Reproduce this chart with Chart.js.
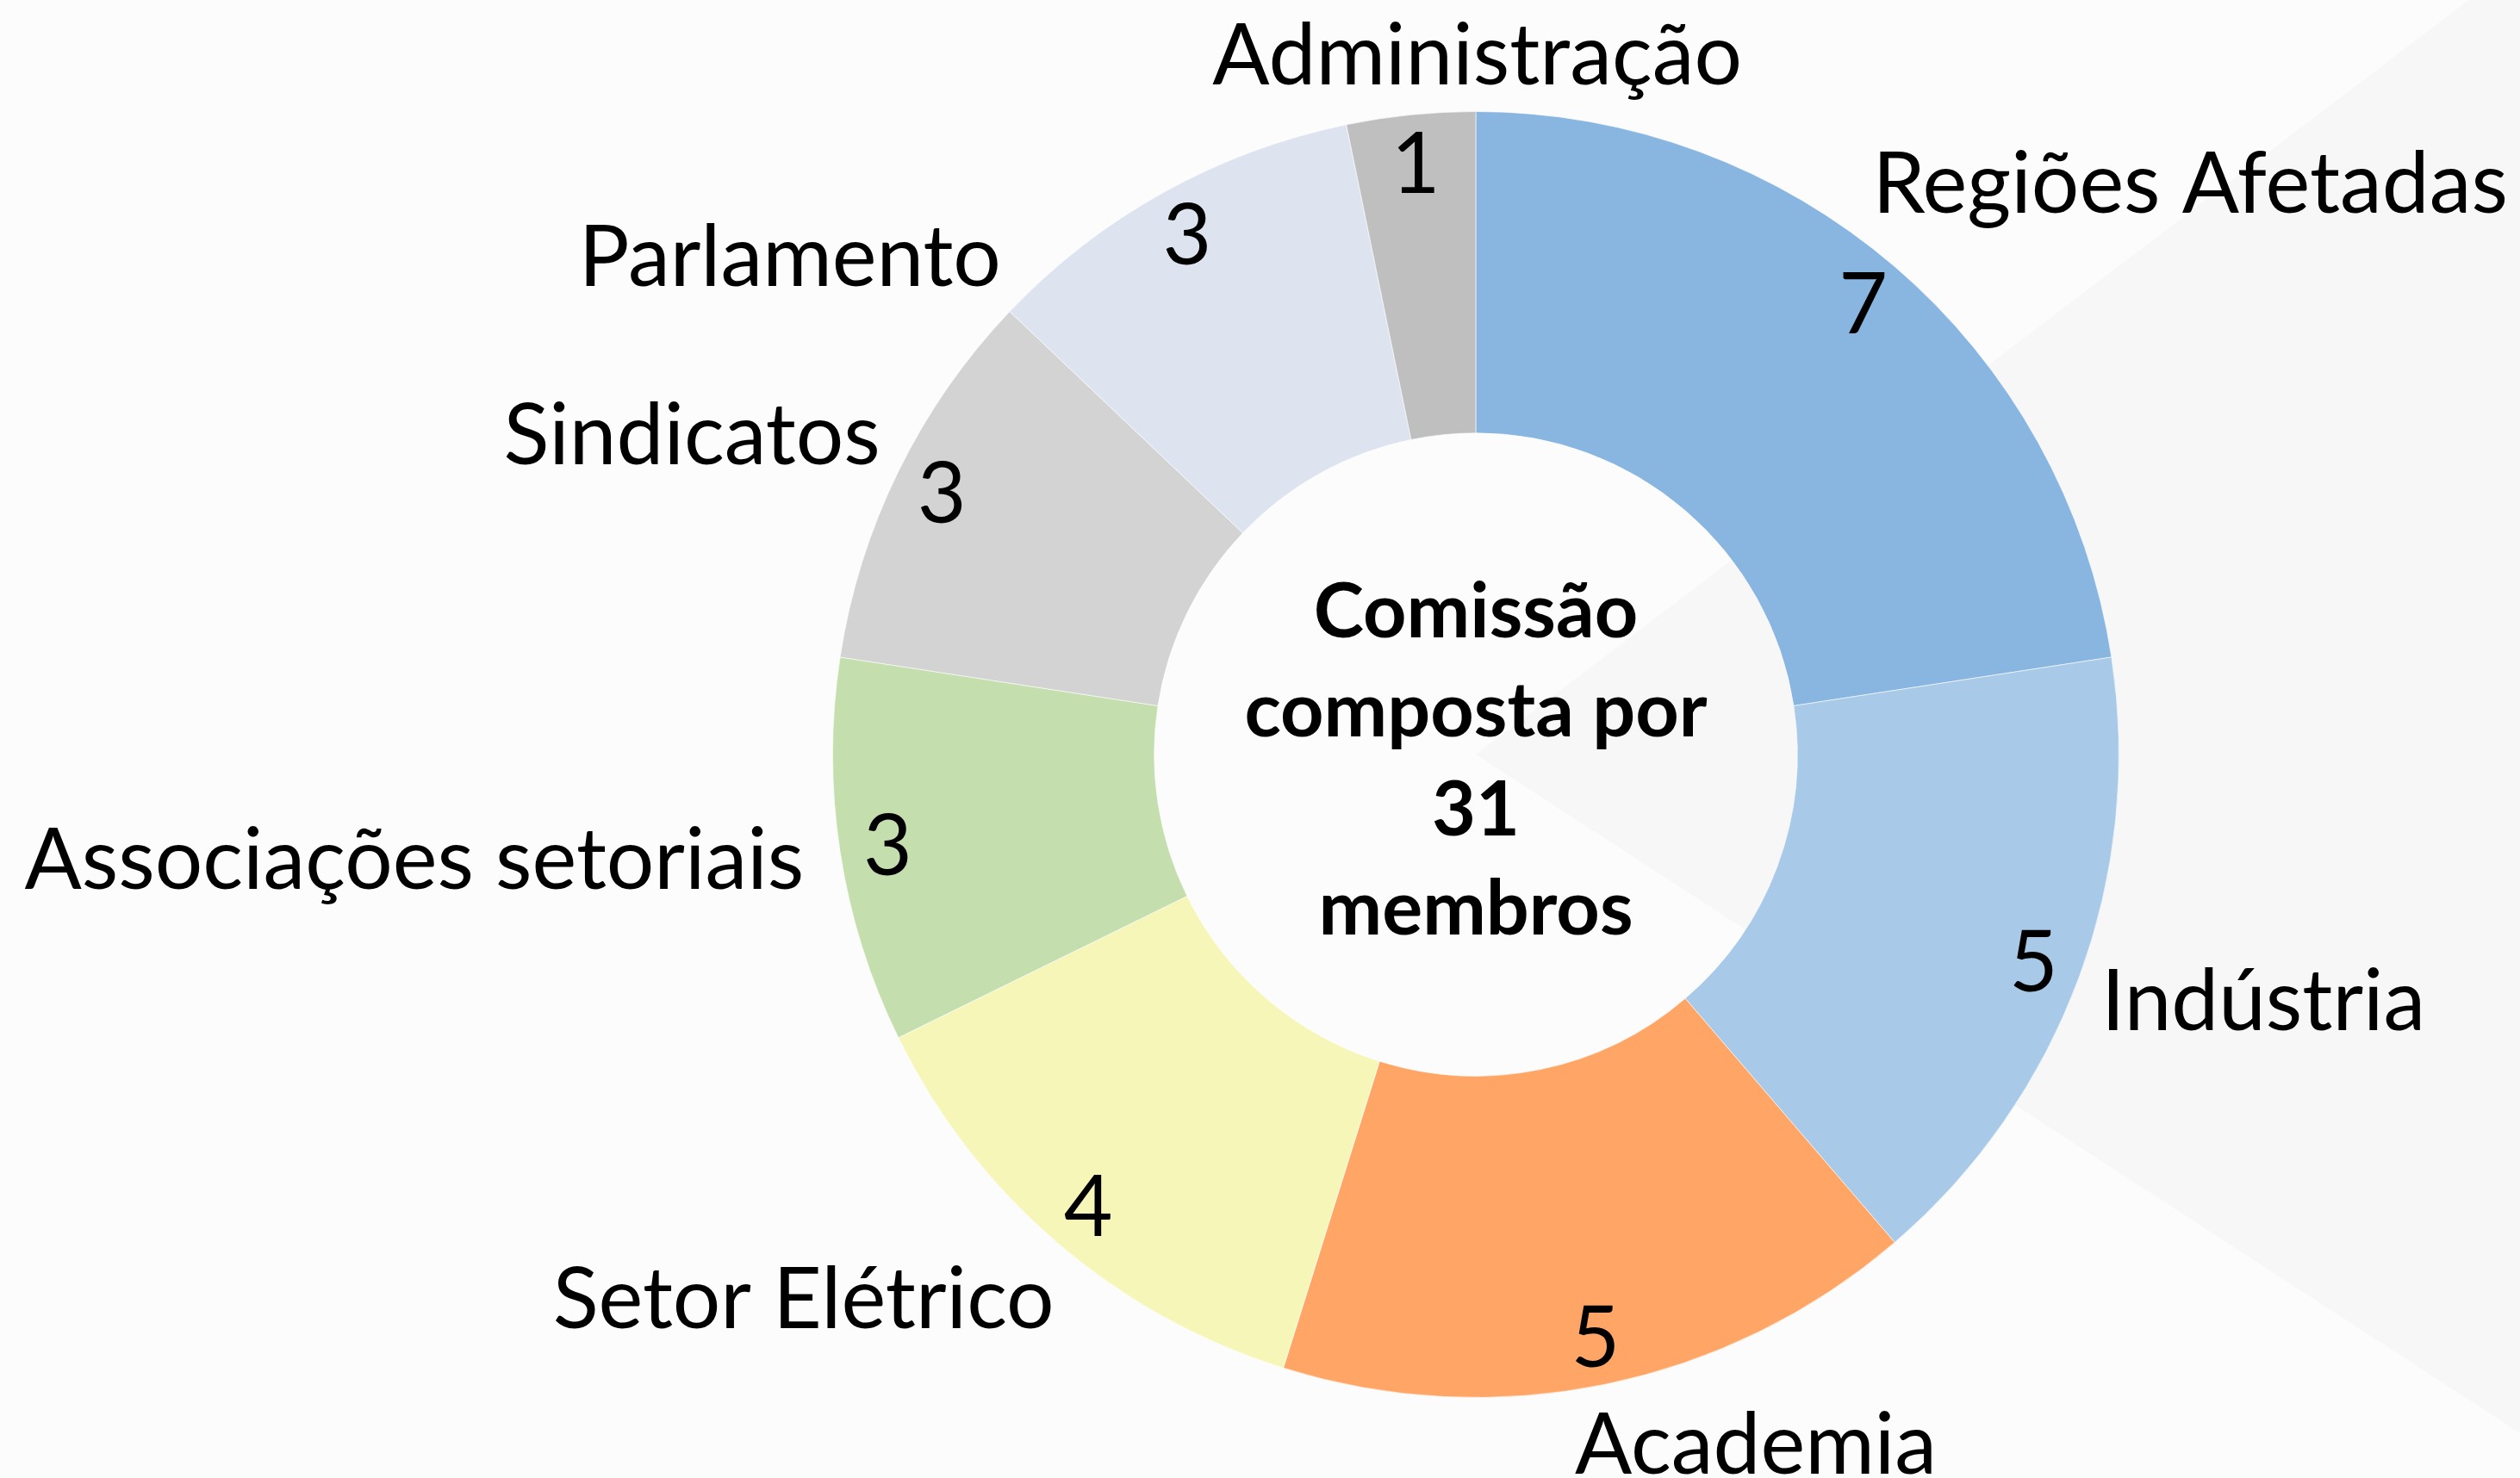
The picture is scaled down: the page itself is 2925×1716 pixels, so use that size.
<!DOCTYPE html>
<html>
<head>
<meta charset="utf-8">
<script src="https://cdn.jsdelivr.net/npm/chart.js@4.4.1/dist/chart.umd.min.js"></script>
<style>
  html, body { margin: 0; padding: 0; background: #fcfcfc; }
  canvas { display: block; }
</style>
</head>
<body>
<canvas id="comissaoChart" width="2925" height="1716"></canvas>
<script>
// Composition of the commission (members per group), clockwise from 12 o'clock
const categories = ['Regiões Afetadas', 'Indústria', 'Academia', 'Setor Elétrico',
    'Associações setoriais', 'Sindicatos', 'Parlamento', 'Administração'];
const members = [7, 5, 5, 4, 3, 3, 3, 1];
const centerText = ['Comissão', 'composta por', '31', 'membros'];

const sliceColors = ['#89b6e0', '#a8c9e8', '#ffa666', '#f7f6b9',
    '#c4dfad', '#d3d3d3', '#dde4ef', '#bfbfbf'];

// label layout tweaks (px) so the outside labels sit where the original put them
const labelNudge = [[-39, -39], [7, -19], [65, 6], [10, 6], [-22, -11], [-3, 9], [-179, 134], [157, -7]];

const LABEL_FONT = 98;
const CENTER_FONT = 88;

// Background: off-white page with a pale grey wedge opening to the right
const backgroundPlugin = {
    id: 'pageBackground',
    beforeDraw(chart) {
        const ctx = chart.ctx;
        const arc = chart.getDatasetMeta(0).data[0];
        const cx = arc.x, cy = arc.y;
        ctx.save();
        ctx.fillStyle = '#fcfcfc';
        ctx.fillRect(0, 0, chart.width, chart.height);
        ctx.fillStyle = '#f7f7f7';
        ctx.beginPath();
        ctx.moveTo(cx, cy);
        ctx.lineTo(cx + cy / 0.76, 0);
        ctx.lineTo(chart.width, 0);
        ctx.lineTo(chart.width, chart.height);
        ctx.lineTo(cx + (chart.height - cy) / 0.65, chart.height);
        ctx.closePath();
        ctx.fill();
        ctx.restore();
    }
};

// Values inside the ring, category names outside, title in the hole
const labelPlugin = {
    id: 'sliceLabels',
    afterDatasetsDraw(chart) {
        const ctx = chart.ctx;
        const meta = chart.getDatasetMeta(0);
        const capH = LABEL_FONT * 0.7165;
        const clamp = v => Math.max(-1, Math.min(1, v * 2.5));
        ctx.save();
        ctx.fillStyle = '#000000';
        ctx.textBaseline = 'alphabetic';
        ctx.font = LABEL_FONT + 'px Lato';

        meta.data.forEach(function (arc, i) {
            const p = arc.getProps(['x', 'y', 'startAngle', 'endAngle', 'outerRadius'], true);
            const mid = (p.startAngle + p.endAngle) / 2;
            const ux = Math.cos(mid), uy = Math.sin(mid);

            // value near the outer edge of the slice
            ctx.textAlign = 'center';
            const vr = p.outerRadius * 0.925;
            ctx.fillText(String(members[i]), p.x + ux * vr, p.y + uy * vr + capH / 2);

            // category name just outside the ring
            const w = ctx.measureText(categories[i]).width;
            const h = 86;
            const ar = p.outerRadius * 1.027;
            const lx = p.x + ux * ar + (w / 2) * clamp(ux) + labelNudge[i][0];
            const ly = p.y + uy * ar + (h / 2) * clamp(uy) + labelNudge[i][1];
            ctx.fillText(categories[i], lx, ly + capH / 2);
        });

        // text in the hole
        const first = meta.data[0];
        ctx.font = 'bold ' + CENTER_FONT + 'px Lato';
        ctx.textAlign = 'center';
        centerText.forEach(function (line, k) {
            ctx.fillText(line, first.x, first.y - 136 + k * 115);
        });
        ctx.restore();
    }
};

const ctx = document.getElementById('comissaoChart').getContext('2d');
const chart = new Chart(ctx, {
    type: 'doughnut',
    data: {
        labels: categories,
        datasets: [{
            data: members,
            backgroundColor: sliceColors,
            borderColor: 'rgba(255, 255, 255, 0.6)',
            borderWidth: 1
        }]
    },
    options: {
        responsive: false,
        animation: false,
        devicePixelRatio: 1,
        cutout: '50%',
        layout: {
            padding: { left: 966, right: 465, top: 129, bottom: 93 }
        },
        plugins: {
            legend: { display: false },
            tooltip: { enabled: false }
        }
    },
    plugins: [backgroundPlugin, labelPlugin]
});
</script>
</body>
</html>
